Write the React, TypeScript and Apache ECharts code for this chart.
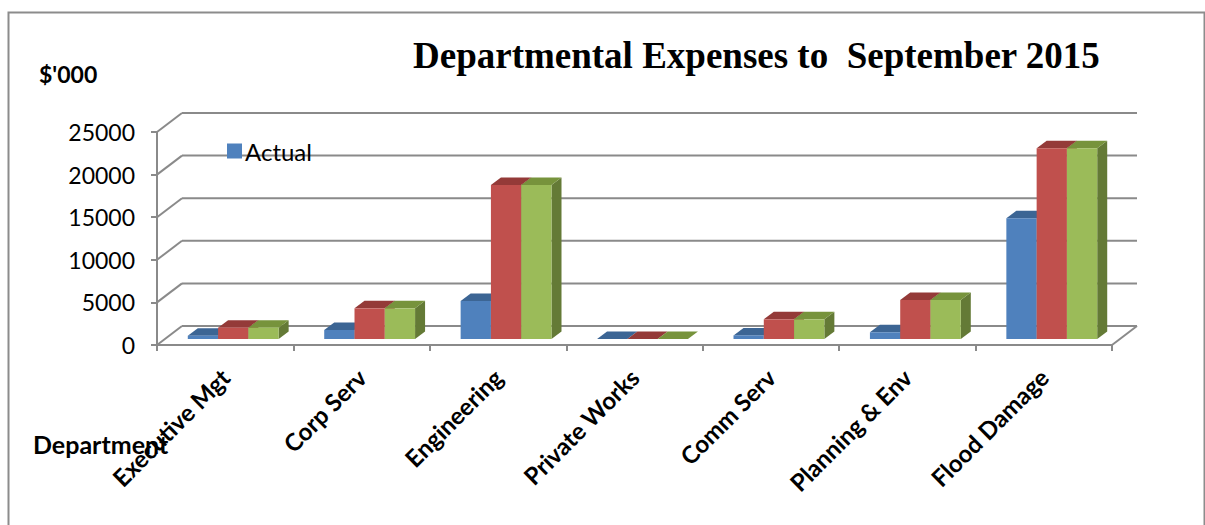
import React, { useEffect, useRef } from "react";
import * as echarts from "echarts";

const categories = [
  "Executive Mgt",
  "Corp Serv",
  "Engineering",
  "Private Works",
  "Comm Serv",
  "Planning & Env",
  "Flood Damage",
];
const actual = [390, 1060, 4460, 0, 420, 790, 14170];
const originalBudget = [1330, 3600, 18080, 0, 2310, 4580, 22380];
const revisedBudget = [1330, 3600, 18080, 0, 2310, 4580, 22380];
const yTicks = [0, 5000, 10000, 15000, 20000, 25000];

const seriesNames = ["Actual", "Original Budget", "Revised Budget"];
const seriesValues = [actual, originalBudget, revisedBudget];
const frontColors = ["#4F81BD", "#C0504D", "#9BBB59"];
const topColors = ["#3C6594", "#943A38", "#77933C"];
const sideColors = ["#375C89", "#8A3735", "#647A36"];

// oblique depth of the back wall and of the bars
const WALL_DX = 25;
const WALL_DY = -19;
const BAR_OFF_X = 8;
const BAR_OFF_Y = -6;
const BAR_DX = 10;
const BAR_DY = -7.5;
const GRID_COLOR = "#8A8A8A";

export default function App() {
  const ref = useRef<HTMLDivElement>(null);

  useEffect(() => {
    document.body.style.margin = "0";
    const chart = echarts.init(ref.current!, null, { renderer: "svg" });

    const wallSeries: any = {
      type: "custom",
      name: "wall",
      z: 1,
      silent: true,
      data: yTicks.map((v) => [0, v]),
      renderItem: (params: any, api: any) => {
        const cs = params.coordSys;
        const v = api.value(1);
        const p = api.coord([0, v]);
        const y = p[1];
        const x0 = cs.x;
        const x1 = cs.x + cs.width;
        const children: any[] = [
          {
            type: "line",
            shape: { x1: x0, y1: y, x2: x0 + WALL_DX, y2: y + WALL_DY },
            style: { stroke: GRID_COLOR, lineWidth: 2 },
          },
          {
            type: "line",
            shape: { x1: x0 + WALL_DX, y1: y + WALL_DY, x2: x1 + WALL_DX, y2: y + WALL_DY },
            style: { stroke: GRID_COLOR, lineWidth: 2 },
          },
        ];
        if (v === 0) {
          children.push({
            type: "line",
            shape: { x1: x1, y1: y, x2: x1 + WALL_DX, y2: y + WALL_DY },
            style: { stroke: GRID_COLOR, lineWidth: 2 },
          });
        }
        return { type: "group", children };
      },
    };

    const barSeries = seriesValues.map((vals, k) => ({
      type: "custom",
      name: seriesNames[k],
      z: 2 + k,
      itemStyle: { color: frontColors[k] },
      data: vals.map((v, i) => [i, v]),
      renderItem: (params: any, api: any) => {
        const idx = api.value(0);
        const val = api.value(1);
        const base = api.coord([idx, 0]);
        const top = api.coord([idx, val]);
        const band = api.size([1, 0])[0];
        const bw = band * 0.222;
        const xl = base[0] - 1.5 * bw + k * bw + BAR_OFF_X;
        const yb = base[1] + BAR_OFF_Y;
        const yt = top[1] + BAR_OFF_Y;
        return {
          type: "group",
          children: [
            {
              type: "polygon",
              shape: {
                points: [
                  [xl + bw, yt],
                  [xl + bw, yb],
                  [xl + bw + BAR_DX, yb + BAR_DY],
                  [xl + bw + BAR_DX, yt + BAR_DY],
                ],
              },
              style: { fill: sideColors[k] },
            },
            {
              type: "polygon",
              shape: {
                points: [
                  [xl, yt],
                  [xl + bw, yt],
                  [xl + bw + BAR_DX, yt + BAR_DY],
                  [xl + BAR_DX, yt + BAR_DY],
                ],
              },
              style: { fill: topColors[k] },
            },
            {
              type: "rect",
              shape: { x: xl, y: yt, width: bw, height: Math.max(0, yb - yt) },
              style: { fill: frontColors[k] },
            },
          ],
        };
      },
    }));

    chart.setOption({
      animation: false,
      backgroundColor: "#FFFFFF",
      title: {
        text: "Departmental Expenses to  September 2015",
        left: 408,
        top: 32,
        textStyle: {
          fontFamily: "Liberation Serif",
          fontWeight: "bold",
          fontSize: 37,
          color: "#000000",
        },
      },
      legend: {
        data: ["Actual"],
        left: 222,
        top: 134,
        icon: "rect",
        itemWidth: 15,
        itemHeight: 15,
        itemGap: 6,
        textStyle: { fontFamily: "Lato", fontSize: 24, color: "#000000", padding: [0, 0, 0, -2] },
      },
      grid: { left: 157, right: 93, top: 132, bottom: 180, containLabel: false },
      xAxis: {
        type: "category",
        data: categories,
        boundaryGap: true,
        axisLine: { show: true, lineStyle: { color: GRID_COLOR, width: 2 } },
        axisTick: { show: true, length: 6, lineStyle: { color: GRID_COLOR, width: 2 } },
        axisLabel: {
          rotate: 45,
          interval: 0,
          margin: 28,
          verticalAlign: "middle",
          fontFamily: "Lato",
          fontWeight: "bold",
          fontSize: 24,
          color: "#000000",
        },
        splitLine: { show: false },
      },
      yAxis: {
        type: "value",
        min: 0,
        max: 25000,
        interval: 5000,
        axisLine: { show: true, lineStyle: { color: GRID_COLOR, width: 2 } },
        axisTick: { show: true, length: 6, lineStyle: { color: GRID_COLOR, width: 2 } },
        axisLabel: {
          margin: 22,
          fontFamily: "Lato",
          fontSize: 23,
          color: "#000000",
          formatter: (v: number) => String(v),
        },
        splitLine: { show: false },
      },
      graphic: [
        {
          type: "rect",
          left: 6,
          top: 10,
          shape: { x: 0, y: 0, width: 1196, height: 530 },
          style: { fill: "none", stroke: "#8C8C8C", lineWidth: 2 },
          silent: true,
          z: -10,
        },
        {
          type: "text",
          left: 39,
          top: 62,
          style: {
            text: "$'000",
            fontFamily: "Lato",
            fontWeight: "bold",
            fontSize: 23,
            fill: "#000000",
          },
        },
        {
          type: "text",
          left: 33,
          top: 431,
          style: {
            text: "Department",
            fontFamily: "Lato",
            fontWeight: "bold",
            fontSize: 25,
            fill: "#000000",
          },
        },
      ],
      series: [wallSeries, ...barSeries],
    });

    return () => chart.dispose();
  }, []);

  return <div ref={ref} style={{ width: 1205, height: 525 }} />;
}
